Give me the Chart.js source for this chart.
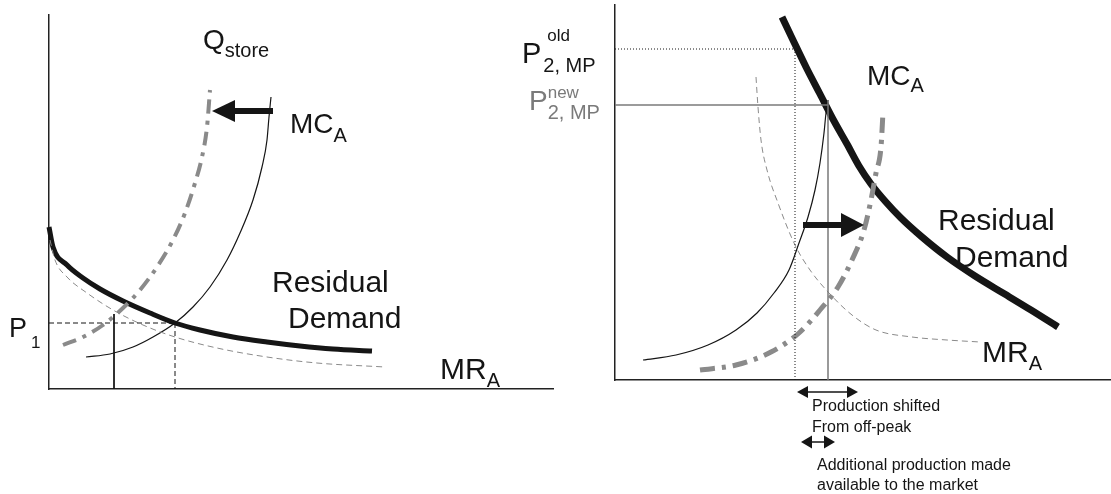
<!DOCTYPE html>
<html>
<head>
<meta charset="utf-8">
<script src="https://cdn.jsdelivr.net/npm/chart.js@4.4.1/dist/chart.umd.min.js"></script>
<style>
  html, body { margin: 0; padding: 0; background: #fff; }
  #wrap { position: relative; width: 1111px; height: 494px; overflow: hidden; }
  canvas { position: absolute; top: 0; }
  #left { left: 0; }
  #right { left: 500px; }
</style>
</head>
<body>
<div id="wrap">
  <canvas id="left" width="560" height="494"></canvas>
  <canvas id="right" width="611" height="494"></canvas>
</div>
<script>
// --- left panel (quantity / price, arbitrary units) ---
const leftDemand = [[0,162],[4,142],[18,124],[34,111],[51,100],[74,88],[101,76],[126,66],[151,59],[184,52],[218,47],[251,43],[284,40],[323,38]];
const leftMR = [[1,149],[6,129],[18,112],[38,96],[64,79],[94,64],[126,52],[168,41],[218,32],[268,26],[336,22]];
const leftMC = [[37,32],[61,35],[84,42],[104,52],[126,66],[144,82],[161,102],[178,129],[191,156],[204,189],[213,222],[218,249],[220,272],[222,292]];
const leftQstore = [[14,44],[34,52],[54,64],[74,81],[91,99],[108,122],[124,149],[136,176],[146,206],[153,232],[158,262],[161,299]];
const leftP1 = [[0,66],[126,66]];
const leftQ1 = [[126,66],[126,0]];
const leftQ0 = [[65,75],[65,0]];
const leftShift = [[224,278],[163,278]];

// --- right panel ---
const rightDemand = [[167,363],[177,342],[191,313],[205,286],[219,259],[232,236],[244,214],[256,196],[270,179],[286,162],[307,143],[332,123],[360,104],[388,87],[416,70],[443,53]];
const rightMC = [[28,20],[61,25],[93,35],[121,50],[142,67],[159,87],[174,110],[184,137],[193,163],[200,190],[205,217],[209,247],[211,267],[213,280]];
const rightMR = [[141,303],[143,273],[146,240],[152,210],[163,177],[180,135],[195,110],[214,87],[237,65],[261,50],[297,43],[332,40],[365,38]];
const rightQstore = [[85,10],[121,15],[156,28],[184,47],[205,70],[223,93],[237,120],[249,150],[256,180],[261,207],[266,233],[268,268]];
const oldPrice = [[0,331],[180,331]];
const oldDrop = [[180,331],[180,0]];
const newPrice = [[0,275],[213,275]];
const newDrop = [[213,280],[213,0]];
const rightShift = [[188,155],[249,155]];
const shiftedSpan = [[182,-12],[243,-12]];
const addedSpan = [[186,-62],[220,-62]];

const FONT = '"Liberation Sans", Arial, Helvetica, sans-serif';
const GREY = '#8a8a8a';
const INK = '#151515';

function pts(arr) {
    return arr.map(p => ({ x: p[0], y: p[1] }));
}

function line(arr, color, width, dash, smooth) {
    return {
        data: pts(arr),
        borderColor: color,
        borderWidth: width,
        borderDash: dash || [],
        cubicInterpolationMode: smooth === false ? 'default' : 'monotone',
        tension: smooth === false ? 0 : 0.4,
        pointRadius: 0,
        fill: false,
        clip: false,
        borderCapStyle: 'butt'
    };
}

// arrows + text drawn on top, positioned through the chart's own scales
function notes(labels, arrows) {
    return {
        id: 'notes',
        afterDraw(chart) {
            const ctx = chart.ctx;
            const sx = chart.scales.x, sy = chart.scales.y;
            const px = v => sx.getPixelForValue(v);
            const py = v => sy.getPixelForValue(v);

            arrows.forEach(a => {
                const x1 = px(a.pts[0][0]), y1 = py(a.pts[0][1]);
                const x2 = px(a.pts[1][0]), y2 = py(a.pts[1][1]);
                const dir = Math.sign(x2 - x1);
                ctx.save();
                ctx.strokeStyle = INK;
                ctx.fillStyle = INK;
                ctx.lineWidth = a.shaft;
                ctx.lineCap = 'butt';
                ctx.beginPath();
                ctx.moveTo(a.both ? x1 + dir * a.head : x1, y1);
                ctx.lineTo(x2 - dir * a.head, y2);
                ctx.stroke();
                const tip = (x, y, d) => {
                    ctx.beginPath();
                    ctx.moveTo(x, y);
                    ctx.lineTo(x - d * a.head, y - a.half);
                    ctx.lineTo(x - d * a.head, y + a.half);
                    ctx.closePath();
                    ctx.fill();
                };
                tip(x2, y2, dir);
                if (a.both) tip(x1, y1, -dir);
                ctx.restore();
            });

            labels.forEach(l => {
                ctx.save();
                ctx.fillStyle = l.color || INK;
                ctx.textBaseline = 'alphabetic';
                ctx.textAlign = 'left';
                ctx.font = l.size + 'px ' + FONT;
                const x = px(l.x), y = py(l.y);
                ctx.fillText(l.text, x, y);
                const w = ctx.measureText(l.text).width;
                if (l.sub) {
                    ctx.font = l.subSize + 'px ' + FONT;
                    ctx.fillText(l.sub, x + w + (l.subGap || 0), y + l.subDy);
                }
                if (l.sup) {
                    ctx.font = l.supSize + 'px ' + FONT;
                    ctx.fillText(l.sup, x + w + (l.supGap || 0), y + l.supDy);
                }
                ctx.restore();
            });
        }
    };
}

function axes(xMax, yMax) {
    const common = {
        type: 'linear',
        ticks: { display: false },
        grid: { display: false, drawTicks: false },
        border: { display: true, color: '#222', width: 1.5 }
    };
    return {
        x: Object.assign({}, common, { min: 0, max: xMax }),
        y: Object.assign({}, common, { min: 0, max: yMax })
    };
}

function makeChart(id, datasets, xMax, yMax, padding, labels, arrows) {
    return new Chart(document.getElementById(id), {
        type: 'line',
        data: { datasets: datasets },
        options: {
            responsive: false,
            animation: false,
            events: [],
            layout: { padding: padding },
            plugins: { legend: { display: false }, tooltip: { enabled: false } },
            scales: axes(xMax, yMax)
        },
        plugins: [notes(labels, arrows)]
    });
}

Chart.defaults.font.family = FONT;

makeChart('left', [
    line(leftP1, INK, 1, [5, 3], false),
    line(leftQ1, INK, 1, [5, 3], false),
    line(leftQ0, INK, 1, [], false),
    line(leftMR, GREY, 1, [6, 4]),
    line(leftMC, INK, 1.2, []),
    line(leftQstore, GREY, 4, [14, 7, 4, 7]),
    line(leftDemand, INK, 5, [])
], 504, 374, { left: 49, top: 15, right: 7, bottom: 105 }, [
    { text: 'Q', x: 154, y: 340, size: 28, sub: 'store', subSize: 20, subDy: 8 },
    { text: 'MC', x: 241, y: 256, size: 28, sub: 'A', subSize: 20, subDy: 9 },
    { text: 'Residual', x: 223, y: 97, size: 30 },
    { text: 'Demand', x: 239, y: 61, size: 30 },
    { text: 'P', x: -40, y: 52, size: 27, sub: '1', subSize: 17, subDy: 11, subGap: 4 },
    { text: 'MR', x: 391, y: 10, size: 30, sub: 'A', subSize: 20, subDy: 8 }
], [
    { pts: leftShift, shaft: 6, head: 23, half: 11 }
]);

makeChart('right', [
    line(oldPrice, INK, 1, [1, 2], false),
    line(oldDrop, INK, 1, [1, 2], false),
    line(newPrice, '#7a7a7a', 1.5, [], false),
    line(newDrop, '#7a7a7a', 1.5, [], false),
    line(rightMR, GREY, 1, [6, 4]),
    line(rightMC, INK, 1.2, []),
    line(rightQstore, GREY, 5, [15, 7, 4, 7]),
    line(rightDemand, INK, 7, [])
], 496, 375, { left: 115, top: 5, right: 0, bottom: 114 }, [
    { text: 'P', x: -93, y: 317, size: 29, sup: 'old', supSize: 17, supDy: -22, supGap: 6, sub: '2, MP', subSize: 20, subDy: 9, subGap: 2 },
    { text: 'P', x: -86, y: 270, size: 28, color: '#7a7a7a', sup: 'new', supSize: 17, supDy: -12, supGap: 0, sub: '2, MP', subSize: 20, subDy: 9, subGap: 0 },
    { text: 'MC', x: 252, y: 295, size: 28, sub: 'A', subSize: 20, subDy: 7 },
    { text: 'Residual', x: 323, y: 150, size: 30 },
    { text: 'Demand', x: 340, y: 113, size: 30 },
    { text: 'MR', x: 367, y: 18, size: 30, sub: 'A', subSize: 20, subDy: 8 },
    { text: 'Production shifted', x: 197, y: -31, size: 16 },
    { text: 'From off-peak', x: 197, y: -52, size: 16 },
    { text: 'Additional production made', x: 202, y: -90, size: 16 },
    { text: 'available to the market', x: 202, y: -110, size: 16 }
], [
    { pts: rightShift, shaft: 6, head: 23, half: 12 },
    { pts: shiftedSpan, shaft: 1.5, head: 11, half: 6, both: true },
    { pts: addedSpan, shaft: 1.5, head: 11, half: 6.5, both: true }
]);
</script>
</body>
</html>
